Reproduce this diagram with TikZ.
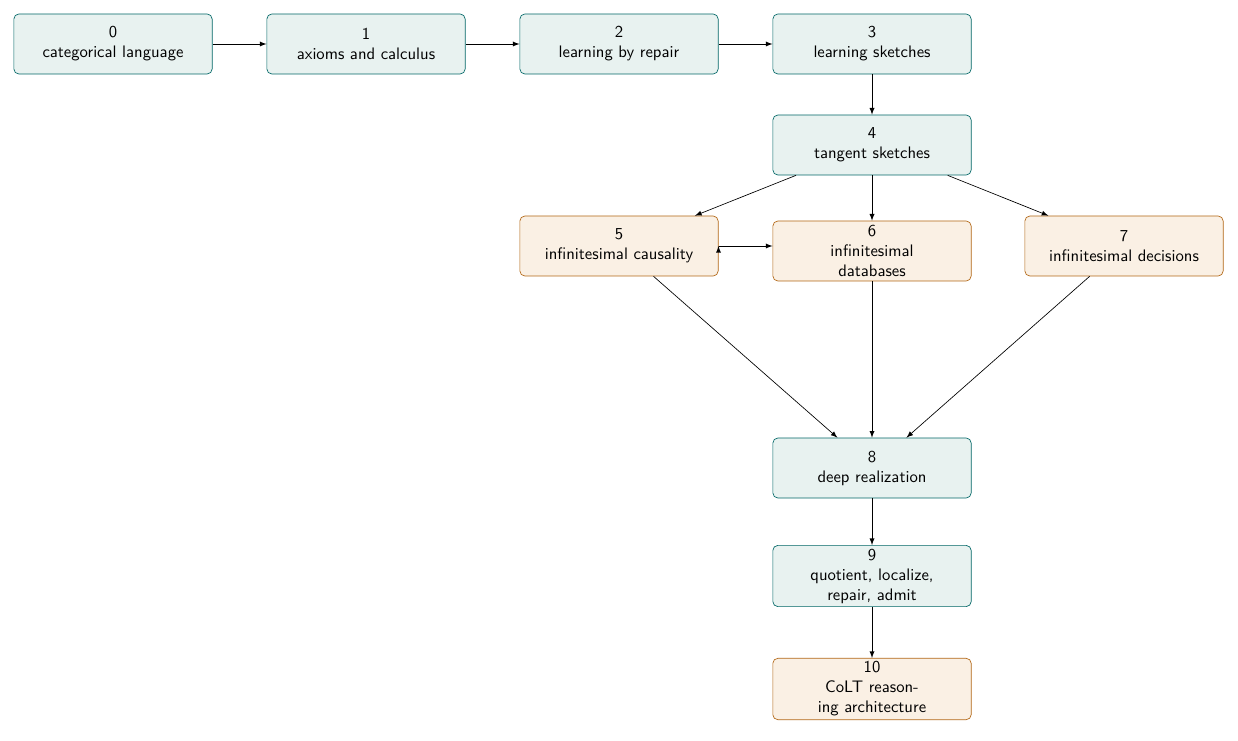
\documentclass[tikz,border=0pt]{standalone}
\usetikzlibrary{arrows}
\usetikzlibrary{positioning}
\definecolor{tealline}{RGB}{0,102,102}
\definecolor{tealfill}{RGB}{232,242,240}
\definecolor{orangeline}{RGB}{178,102,20}
\definecolor{orangefill}{RGB}{250,240,228}
\tikzset{
  stage/.style={draw=tealline,fill=tealfill,rounded corners=3pt,minimum width=119pt,minimum height=36pt,align=center,font=\sffamily,inner sep=2pt},
  newstage/.style={stage,draw=orangeline,fill=orangefill},
  link/.style={draw,->,>=latex}
}
\begin{document}
\begin{tikzpicture}[x=0.6pt,y=-0.6pt]

  \useasboundingbox (0,0) rectangle (1238,741);

  \node [stage] (s0) at (113,44) {0\\categorical language};
  \node [stage] (s1) at (366,44) {1\\axioms and calculus};
  \node [stage] (s2) at (619,44) {2\\learning by repair};
  \node [stage] (s3) at (872,44) {3\\learning sketches};
  \node [stage] (s4) at (872,145) {4\\tangent sketches};
  \node [newstage] (s5) at (619,246) {5\\infinitesimal causality};
  \node [newstage] (s6) at (872,251) {6\\infinitesimal\\databases};
  \node [newstage] (s7) at (1124,246) {7\\infinitesimal decisions};
  \node [stage] (s8) at (872,468) {8\\deep realization};
  \node [stage] (s9) at (872,576) {9\\quotient, localize,\\repair, admit};
  \node [newstage] (s10) at (872,689) {10\\CoLT reason-\\ing architecture};

  \path [link]
    (s0) edge (s1)
    (s1) edge (s2)
    (s2) edge (s3)
    (s3) edge (s4)
    (s4) edge (s5)
    (s4) edge (s6)
    (s4) edge (s7)
    (s5.east) edge (s6.west |- s5.east)
    (s5) edge (s8)
    (s6) edge (s8)
    (s7) edge (s8)
    (s8) edge (s9)
    (s9) edge (s10);

\end{tikzpicture}
\end{document}
